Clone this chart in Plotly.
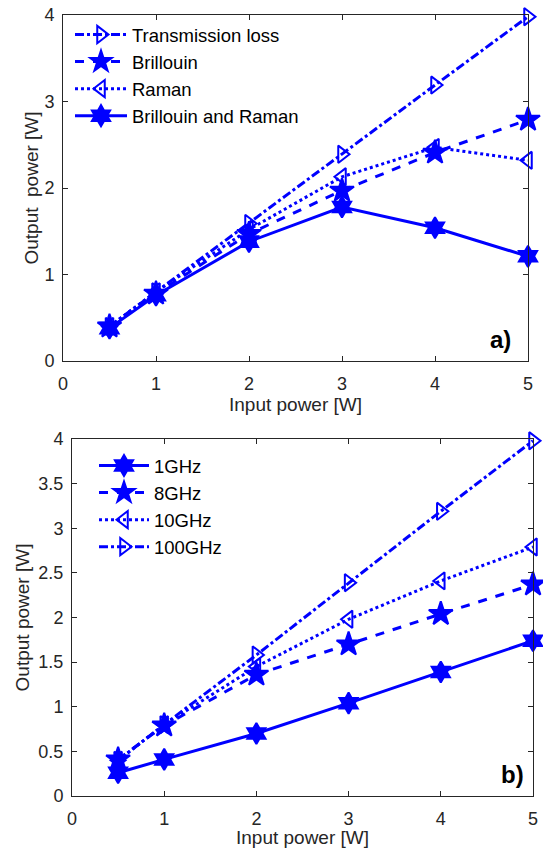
import plotly.graph_objects as go

x_in = [0.5, 1, 2, 3, 4, 5]

# Panel a)
trans_loss = [0.40, 0.80, 1.59, 2.39, 3.19, 3.98]
brillouin = [0.40, 0.78, 1.47, 1.97, 2.41, 2.79]
raman = [0.40, 0.80, 1.52, 2.13, 2.47, 2.32]
bri_raman = [0.38, 0.76, 1.38, 1.78, 1.54, 1.21]

# Panel b)
ghz1 = [0.26, 0.41, 0.70, 1.04, 1.39, 1.74]
ghz8 = [0.41, 0.79, 1.36, 1.70, 2.04, 2.37]
ghz10 = [0.40, 0.80, 1.45, 1.98, 2.41, 2.79]
ghz100 = [0.40, 0.80, 1.58, 2.39, 3.19, 3.98]

W, H = 543, 848
BLUE = "#0000FF"
FONT = "Liberation Sans, Arial, sans-serif"


def xd(px):
    return px / W


def yd(py):
    return 1 - py / H


fig = go.Figure()


def add(y, name, dash, symbol, xa, ya, legend, size=15):
    fig.add_trace(go.Scatter(
        x=x_in, y=y, name=name, mode="lines+markers",
        line=dict(color=BLUE, width=3, dash=dash),
        marker=dict(symbol=symbol, size=size, color=BLUE,
                    line=dict(color=BLUE, width=2)),
        xaxis=xa, yaxis=ya, legend=legend, cliponaxis=False))


add(trans_loss, "Transmission loss", "dashdot", "triangle-right-open", "x", "y", "legend")
add(brillouin, "Brillouin", "dash", "star", "x", "y", "legend", 18)
add(raman, "Raman", "dot", "triangle-left-open", "x", "y", "legend")
add(bri_raman, "Brillouin and Raman", "solid", "hexagram", "x", "y", "legend", 16)

add(ghz1, "1GHz", "solid", "hexagram", "x2", "y2", "legend2", 16)
add(ghz8, "8GHz", "dash", "star", "x2", "y2", "legend2", 18)
add(ghz10, "10GHz", "dot", "triangle-left-open", "x2", "y2", "legend2")
add(ghz100, "100GHz", "dashdot", "triangle-right-open", "x2", "y2", "legend2")

axcommon = dict(showgrid=False, zeroline=False, showline=True, linecolor="#262626",
                linewidth=1, mirror="ticks", ticks="inside", ticklen=5, automargin=False,
                ticklabeloverflow="allow",
                tickcolor="#262626", tickfont=dict(size=18, color="#262626", family=FONT))

TITLE_FONT = dict(size=19, color="#262626", family=FONT)
LEG_FONT = dict(size=18.5, color="black", family=FONT)

fig.update_layout(
    width=W, height=H, margin=dict(l=0, r=0, t=0, b=0),
    paper_bgcolor="white", plot_bgcolor="white",
    font=dict(family=FONT, color="#262626"),
    xaxis=dict(domain=[xd(63), xd(528)], range=[0, 5], dtick=1, anchor="y",
               ticklabelstandoff=6,
               title=dict(text="Input power [W]", font=TITLE_FONT, standoff=3), **axcommon),
    yaxis=dict(domain=[yd(361), yd(15)], range=[0, 4], dtick=1, anchor="x",
               ticklabelstandoff=4,
               title=dict(text="Output  power [W]", font=TITLE_FONT, standoff=0), **axcommon),
    xaxis2=dict(domain=[xd(72), xd(533)], range=[0, 5], dtick=1, anchor="y2",
                ticklabelstandoff=6,
                title=dict(text="Input power [W]", font=TITLE_FONT, standoff=3), **axcommon),
    yaxis2=dict(domain=[yd(796), yd(439)], range=[0, 4], dtick=0.5, anchor="x2",
                ticklabelstandoff=4,
                title=dict(text="Output power [W]", font=TITLE_FONT, standoff=3), **axcommon),
    legend=dict(x=xd(70), y=yd(16), xanchor="left", yanchor="top",
                bgcolor="rgba(0,0,0,0)", font=LEG_FONT,
                tracegroupgap=0, itemwidth=52),
    legend2=dict(x=xd(94), y=yd(447), xanchor="left", yanchor="top",
                 bgcolor="rgba(0,0,0,0)", font=LEG_FONT,
                 tracegroupgap=0, itemwidth=50),
    showlegend=True,
    annotations=[
        dict(text="<b>a)</b>", x=4.7, y=0.25, xref="x", yref="y", showarrow=False,
             font=dict(size=24, color="black", family=FONT)),
        dict(text="<b>b)</b>", x=4.78, y=0.24, xref="x2", yref="y2", showarrow=False,
             font=dict(size=24, color="black", family=FONT)),
    ],
)

fig.write_html("out.html", config={"displayModeBar": False},
               post_script="document.body.style.margin='0';document.body.style.overflow='hidden';")
